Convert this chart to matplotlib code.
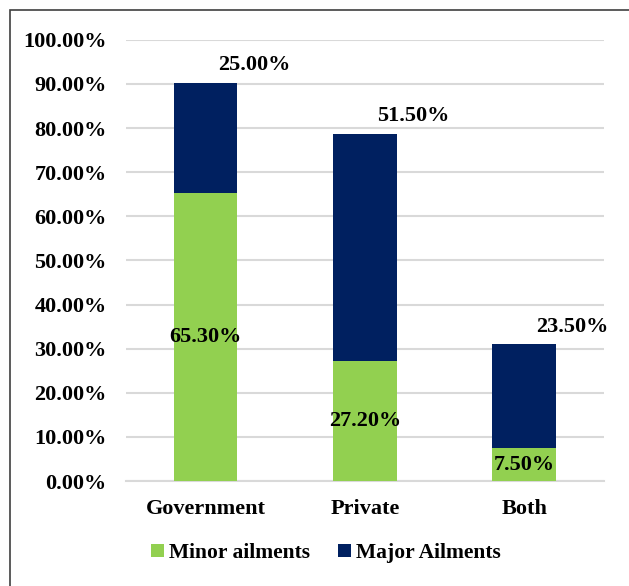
import numpy as np
import matplotlib.pyplot as plt
from matplotlib.patches import Rectangle
from matplotlib.ticker import FuncFormatter

categories = ["Government", "Private", "Both"]
minor = [65.30, 27.20, 7.50]
major = [25.00, 51.50, 23.50]

green = "#92D050"
navy = "#002060"

plt.rcParams['font.family'] = ['Liberation Serif', 'DejaVu Serif']
plt.rcParams['font.weight'] = 'bold'

fig = plt.figure(figsize=(6.29, 5.86), dpi=100)
ax = fig.add_axes([0.2003, 0.179, 0.7597, 0.753])

x = np.arange(len(categories))
ax.bar(x, minor, width=0.4, color=green, label="Minor ailments", zorder=3)
ax.bar(x, major, width=0.4, bottom=minor, color=navy, label="Major Ailments", zorder=3)

fs = 16
for i in range(len(categories)):
    ax.text(x[i], minor[i] / 2, f"{minor[i]:.2f}%", ha='center', va='center',
            fontsize=fs, fontweight='bold', zorder=4)
    ax.annotate(f"{major[i]:.2f}%", (x[i], minor[i] + major[i]),
                xytext=(35, 12.5), textcoords='offset points', ha='center', va='center',
                fontsize=fs, fontweight='bold')

ax.set_xlim(-0.5, 2.5)
ax.set_ylim(0, 100)
ax.set_yticks(np.arange(0, 101, 10))
ax.yaxis.set_major_formatter(FuncFormatter(lambda v, p: f"{v:.2f}%"))
ax.set_xticks(x)
ax.set_xticklabels(categories)
ax.tick_params(axis='both', length=0, labelsize=fs)
ax.tick_params(axis='x', pad=13)
ax.tick_params(axis='y', pad=14)
for lab in ax.get_xticklabels() + ax.get_yticklabels():
    lab.set_fontweight('bold')

ax.grid(axis='y', color='#d9d9d9', linewidth=1.5, zorder=0)
for s in ['top', 'right', 'left']:
    ax.spines[s].set_visible(False)
ax.spines['bottom'].set_color('#d9d9d9')
ax.spines['bottom'].set_linewidth(1.5)

leg = fig.legend(loc='center', bbox_to_anchor=(0.518, 0.056), ncol=2, frameon=False,
                 prop={'size': 15.5, 'weight': 'bold'}, handlelength=0.6, handleheight=0.6,
                 handletextpad=0.25, columnspacing=1.3)

fig.patches.append(Rectangle((10 / 629, -0.1), 1.2, 1 - 10 / 586 + 0.1,
                             transform=fig.transFigure, fill=False,
                             edgecolor='#404040', linewidth=1.2))

fig.savefig("out.png", dpi=100)
